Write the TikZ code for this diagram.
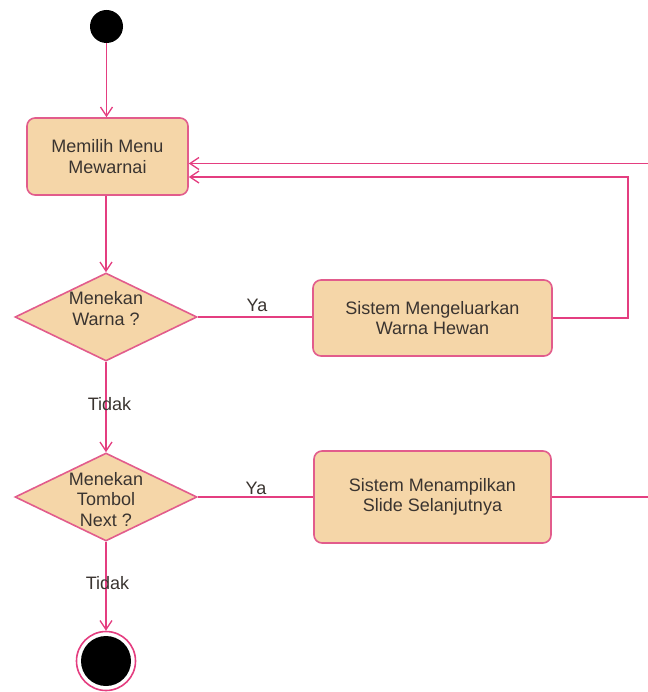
\documentclass[tikz,border=0pt]{standalone}
\usepackage{fontspec}
\setmainfont{Liberation Sans}
\usetikzlibrary{shapes.geometric,arrows.meta,calc}
\definecolor{flow}{RGB}{228,62,128}
\definecolor{edgepink}{RGB}{226,92,140}
\definecolor{tanfill}{RGB}{245,214,168}
\definecolor{ink}{RGB}{58,52,48}
\begin{document}
\begin{tikzpicture}[x=1pt,y=-1pt,
  font=\fontsize{18}{20.5}\selectfont, text=ink,
  act/.style={draw=edgepink,fill=tanfill,line width=1.6pt,rounded corners=8pt,align=center,inner sep=0pt},
  dec/.style={draw=edgepink,fill=tanfill,line width=1.6pt,diamond,inner sep=0pt},
  flowline/.style={draw=flow,line width=1.6pt},
  arr/.style={flowline,-{Straight Barb[length=9pt,width=12pt,line width=1.3pt]}},
  lbl/.style={inner sep=0pt,align=center}]
\useasboundingbox (0,0) rectangle (647,692);

% activity nodes
\node[circle,fill=black,minimum size=33pt,inner sep=0pt] (start) at (106.5,26.5) {};
\node[act,minimum width=161pt,minimum height=77pt] (m1) at (107.5,156.5) {Memilih Menu\\Mewarnai};
\node[dec,minimum width=182pt,minimum height=88pt] (d1) at (106,317) {};
\node[lbl] (d1t) at (106,308.5) {Menekan\\Warna ?};
\node[act,minimum width=239pt,minimum height=76pt] (s1) at (432.5,318) {Sistem Mengeluarkan\\Warna Hewan};
\node[dec,minimum width=182pt,minimum height=88pt] (d2) at (106,497) {};
\node[lbl] (d2t) at (106,499.5) {Menekan\\Tombol\\Next ?};
\node[act,minimum width=237pt,minimum height=92pt] (s2) at (432.5,497) {Sistem Menampilkan\\Slide Selanjutnya};
\node[circle,draw=flow,fill=white,line width=1.6pt,minimum size=59pt,inner sep=0pt] (end) at (106,661) {};
\node[circle,fill=black,minimum size=50pt,inner sep=0pt] (endcore) at (end.center) {};

% connectors
\draw[arr] (start) -- (start |- m1.north);
\draw[arr] (m1.south -| d1.north) -- (d1.north);
\draw[flowline] (d1.east) -- (d1.east -| s1.west);
\draw[arr] (s1.east) -- ++(75,0) |- ($(m1.east)+(0,20.5)$);
\draw[arr] (d1.south) -- (d2.north);
\draw[flowline] (d2.east) -- (d2.east -| s2.west);
\draw[arr] (s2.east) -- ++(140,0) |- ($(m1.east)+(0,7)$);
\draw[arr] (d2.south) -- (end.north);

% guard labels
\node[lbl] (ya1) at (257,305) {Ya};
\node[lbl] (ya2) at (256,488) {Ya};
\node[lbl] (tidak1) at (109.5,404) {Tidak};
\node[lbl] (tidak2) at (107.5,583) {Tidak};
\end{tikzpicture}
\end{document}
